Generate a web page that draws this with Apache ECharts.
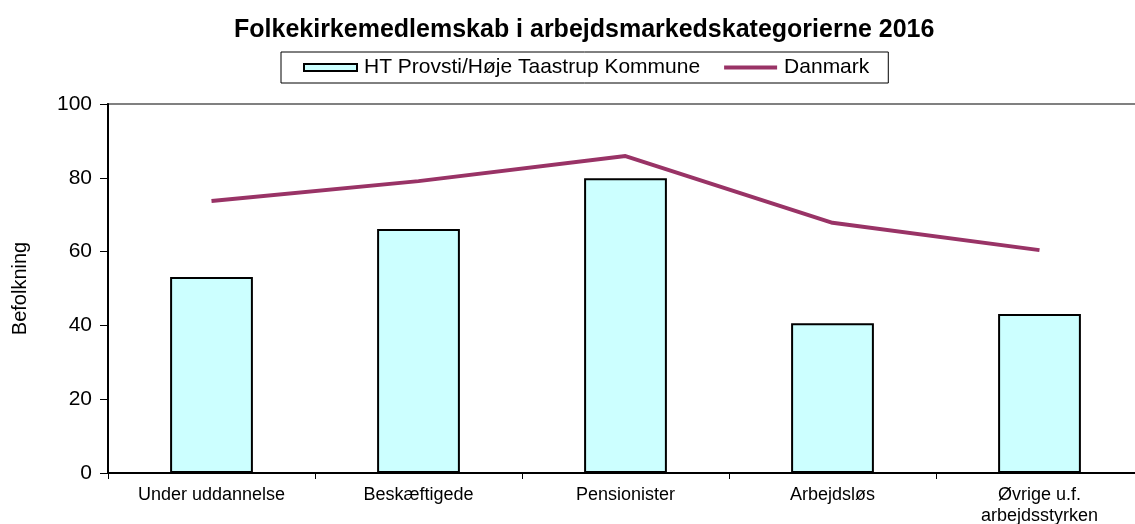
<!DOCTYPE html>
<html>
<head>
<meta charset="utf-8">
<script src="https://cdn.jsdelivr.net/npm/echarts@6/dist/echarts.min.js"></script>
<style>
html, body { margin: 0; padding: 0; background: #fff; }
#chart { width: 1135px; height: 524px; }
</style>
</head>
<body>
<div id="chart"></div>
<script>
// kategorier og værdier
var categories = ['Under uddannelse', 'Beskæftigede', 'Pensionister', 'Arbejdsløs', 'Øvrige u.f.\narbejdsstyrken'];
var provstiValues = [53.1, 66.1, 79.9, 40.6, 43.1];
var danmarkValues = [73.7, 79.1, 85.9, 67.8, 60.4];
var yTicks = [0, 20, 40, 60, 80, 100];

var chart = echarts.init(document.getElementById('chart'));

var option = {
    animation: false,
    textStyle: { fontFamily: 'Liberation Sans, Arial, sans-serif' },
    title: {
        text: 'Folkekirkemedlemskab i arbejdsmarkedskategorierne 2016',
        left: 229,
        top: 13,
        textStyle: { fontSize: 25, fontWeight: 'bold', color: '#000', fontFamily: 'Liberation Sans, Arial, sans-serif' }
    },
    legend: {
        top: 52,
        left: 281,
        borderColor: '#000',
        borderWidth: 1,
        padding: [5, 19, 5, 22],
        itemGap: 22,
        itemWidth: 53,
        itemHeight: 7,
        textStyle: { fontSize: 21, color: '#000', padding: [0, 0, 0, 2] },
        data: [
            { name: 'HT Provsti/Høje Taastrup Kommune', icon: 'rect' },
            {
                name: 'Danmark',
                lineStyle: { width: 4, color: '#993366' },
                itemStyle: { color: 'rgba(0,0,0,0)', borderColor: 'rgba(0,0,0,0)', borderWidth: 0, opacity: 0 }
            }
        ]
    },
    grid: {
        left: 108,
        right: -8,
        top: 104,
        bottom: 51,
        outerBoundsMode: 'none',
        show: true,
        borderColor: '#808080',
        borderWidth: 2,
        backgroundColor: 'transparent'
    },
    xAxis: {
        type: 'category',
        data: categories,
        boundaryGap: true,
        axisLine: { lineStyle: { color: '#000', width: 2 } },
        axisTick: { show: true, length: 6, alignWithLabel: false, lineStyle: { color: '#000' } },
        axisLabel: { fontSize: 18, color: '#000', margin: 12, lineHeight: 21, interval: 0 }
    },
    yAxis: {
        type: 'value',
        min: yTicks[0],
        max: yTicks[yTicks.length - 1],
        interval: 20,
        name: 'Befolkning',
        nameLocation: 'middle',
        nameGap: 78,
        nameTextStyle: { fontSize: 20, color: '#000' },
        axisLine: { show: true, lineStyle: { color: '#000', width: 2 } },
        axisTick: { show: true, length: 8, lineStyle: { color: '#000' } },
        axisLabel: { fontSize: 21, color: '#000', margin: 16 },
        splitLine: { show: false }
    },
    series: [
        {
            name: 'HT Provsti/Høje Taastrup Kommune',
            type: 'bar',
            data: provstiValues,
            barWidth: '40%',
            itemStyle: { color: '#ccffff', borderColor: '#000', borderWidth: 2 }
        },
        {
            name: 'Danmark',
            type: 'line',
            data: danmarkValues,
            symbol: 'none',
            lineStyle: { color: '#993366', width: 4 },
            itemStyle: { color: '#993366' }
        }
    ]
};

chart.setOption(option);
</script>
</body>
</html>
